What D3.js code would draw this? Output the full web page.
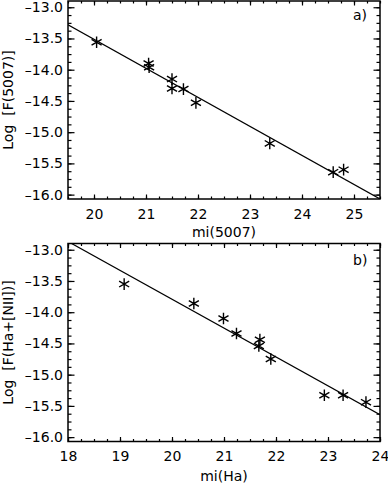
<!DOCTYPE html>
<html>
<head>
<meta charset="utf-8">
<style>
    body { margin: 0; background: #fff; }
    svg text { font-family: "DejaVu Sans", sans-serif; font-size: 14px; fill: #000; }
    .frame { fill: none; stroke: #000; stroke-width: 1.5px; }
    .fit { fill: none; stroke: #000; stroke-width: 1.2px; }
    .star { fill: none; stroke: #000; stroke-width: 1.4px; }
    .tick line { stroke: #000; stroke-width: 1.2px; }
    .domain { display: none; }
</style>
</head>
<body>
<svg id="container" width="388" height="486"></svg>
<script src="https://cdn.jsdelivr.net/npm/d3@7"></script>
<script>
    // panel a) [OIII] 5007
    let magA = [20.05, 21.05, 21.06, 21.5, 21.5, 21.72, 21.96, 23.38, 24.6, 24.8]
    let fluxA = [-13.56, -13.9, -13.96, -14.15, -14.3, -14.31, -14.53, -15.18, -15.64, -15.6]
    let fitA = [-4.2125, -0.465]   // intercept, slope

    // panel b) Ha+[NII]
    let magB = [19.08, 20.42, 20.99, 21.24, 21.69, 21.67, 21.9, 22.93, 23.29, 23.73]
    let fluxB = [-13.55, -13.86, -14.1, -14.34, -14.44, -14.54, -14.75, -15.33, -15.33, -15.44]
    let fitB = [-4.552, -0.462]

    let yTicks = [-16.0, -15.5, -15.0, -14.5, -14.0, -13.5, -13.0]
    let xTicksA = [20, 21, 22, 23, 24, 25]
    let xTicksB = [18, 19, 20, 21, 22, 23, 24]

    let svg = d3.select("#container")

    function drawPanel(p) {
        let g = svg.append("g").attr("transform", `translate(${p.left}, ${p.top})`)
        let w = 312, h = 198

        let xScale = d3.scaleLinear().domain(p.xDomain).range([0, w])
        let yScale = d3.scaleLinear().domain([-16.07, -12.9]).range([h, 0])

        let fmtY = d => "\u2013" + Math.abs(d).toFixed(1)

        // minor ticks
        let xMinor = d3.range(Math.ceil(p.xDomain[0] * 4), Math.floor(p.xDomain[1] * 4) + 1).map(v => v / 4)
        let yMinor = d3.range(-16.0, -12.9, 0.125)

        g.append("g").attr("transform", `translate(0, ${h})`)
            .call(d3.axisBottom(xScale).tickValues(xMinor).tickSize(-2.5).tickFormat(""))
        g.append("g")
            .call(d3.axisTop(xScale).tickValues(xMinor).tickSize(-2.5).tickFormat(""))
        g.append("g").attr("transform", `translate(0, ${h})`)
            .call(d3.axisBottom(xScale).tickValues(p.xTicks).tickSize(-4.5).tickPadding(10).tickFormat(d3.format("d")))
        g.append("g")
            .call(d3.axisTop(xScale).tickValues(p.xTicks).tickSize(-4.5).tickFormat(""))

        g.append("g")
            .call(d3.axisLeft(yScale).tickValues(yMinor).tickSize(-3.5).tickFormat(""))
        g.append("g").attr("transform", `translate(${w}, 0)`)
            .call(d3.axisRight(yScale).tickValues(yMinor).tickSize(-3.5).tickFormat(""))
        g.append("g")
            .call(d3.axisLeft(yScale).tickValues(yTicks).tickSize(-6.5).tickPadding(5).tickFormat(fmtY))
        g.append("g").attr("transform", `translate(${w}, 0)`)
            .call(d3.axisRight(yScale).tickValues(yTicks).tickSize(-6.5).tickFormat(""))

        g.selectAll(".tick text").style("font-family", "DejaVu Sans").style("font-size", "14px")

        // frame
        g.append("rect").attr("class", "frame").attr("width", w).attr("height", h)

        // clip for the fit line
        g.append("clipPath").attr("id", "clip" + p.name)
            .append("rect").attr("width", w).attr("height", h)

        let line = d3.line().x(d => xScale(d)).y(d => yScale(p.fit[0] + p.fit[1] * d))
        g.append("path")
            .datum(p.xDomain)
            .attr("class", "fit")
            .attr("clip-path", `url(#clip${p.name})`)
            .attr("d", line)

        let star = d3.symbol().type(d3.symbolAsterisk).size(95)
        g.selectAll(".star")
            .data(p.mag.map((m, i) => ({ mag: m, flux: p.flux[i] })))
            .join("path")
            .attr("class", "star")
            .attr("transform", d => `translate(${xScale(d.mag)}, ${yScale(d.flux)})`)
            .attr("d", star)

        // labels
        g.append("text").attr("x", 285).attr("y", p.tagY).text(p.name + ")")
        g.append("text")
            .attr("x", w / 2).attr("y", p.titleY)
            .attr("text-anchor", "middle")
            .text(p.xTitle)
        g.append("text")
            .attr("transform", `translate(-55, ${h / 2}) rotate(-90)`)
            .attr("text-anchor", "middle")
            .style("white-space", "pre")
            .text(p.yTitle)
    }

    drawPanel({ name: "a", left: 68, top: 1, xDomain: [19.5, 25.5], xTicks: xTicksA,
        mag: magA, flux: fluxA, fit: fitA, tagY: 19, titleY: 236,
        xTitle: "mi(5007)", yTitle: "Log  [F(5007)]" })

    drawPanel({ name: "b", left: 68, top: 243.5, xDomain: [18, 24], xTicks: xTicksB,
        mag: magB, flux: fluxB, fit: fitB, tagY: 21, titleY: 237,
        xTitle: "mi(Ha)", yTitle: "Log  [F(Ha+[NII])]" })
</script>
</body>
</html>
